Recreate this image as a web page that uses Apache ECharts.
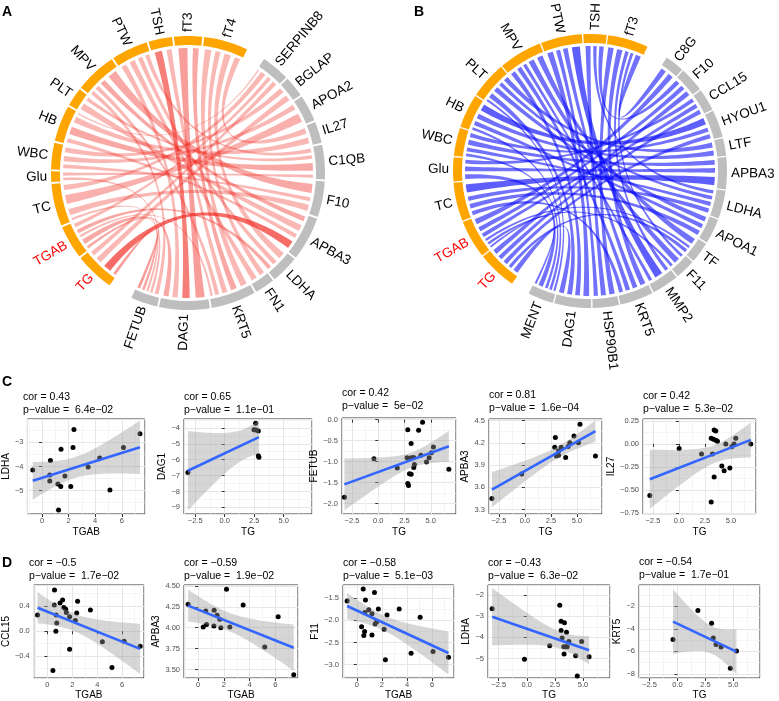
<!DOCTYPE html>
<html lang="en">
<head>
<meta charset="UTF-8">
<title>Chord diagrams and correlation plots</title>
<script src="https://cdn.jsdelivr.net/npm/echarts@6.0.0/dist/echarts.min.js"></script>
<style>
  * { margin: 0; padding: 0; box-sizing: border-box; }
  body { background: #fff; }
  #chart { width: 779px; height: 701px; }
</style>
</head>
<body>
<div id="chart"></div>
<script>
const FONT = '"Liberation Sans", Arial, Helvetica, sans-serif';

// ---------- panel A: chord diagram (red) ----------
const clinicalA = ['TG', 'TGAB', 'TC', 'Glu', 'WBC', 'HB', 'PLT', 'MPV', 'PTW', 'TSH', 'fT3', 'fT4'];
const genesA = ['SERPINB8', 'BGLAP', 'APOA2', 'IL27', 'C1QB', 'F10', 'APBA3', 'LDHA', 'FN1', 'KRT5', 'DAG1', 'FETUB'];
const linkFromA = ['TG', 'TGAB', 'TC', 'HB', 'TG', 'WBC', 'TC', 'WBC', 'fT4', 'HB', 'HB', 'PTW', 'Glu', 'PLT',
  'MPV', 'TC', 'WBC', 'TG', 'PLT', 'MPV', 'HB', 'fT4', 'PTW', 'TGAB', 'fT4', 'PTW', 'fT4', 'fT3', 'TSH', 'MPV',
  'TGAB', 'fT3', 'TSH', 'TGAB', 'PTW', 'TG', 'TGAB', 'Glu', 'MPV', 'TC'];
const linkToA = ['SERPINB8', 'SERPINB8', 'SERPINB8', 'SERPINB8', 'BGLAP', 'BGLAP', 'APOA2', 'APOA2', 'IL27', 'IL27',
  'C1QB', 'C1QB', 'C1QB', 'C1QB', 'F10', 'F10', 'F10', 'APBA3', 'APBA3', 'APBA3', 'APBA3', 'LDHA', 'LDHA', 'LDHA',
  'FN1', 'FN1', 'KRT5', 'KRT5', 'KRT5', 'KRT5', 'KRT5', 'DAG1', 'DAG1', 'DAG1', 'DAG1', 'FETUB', 'FETUB', 'FETUB',
  'FETUB', 'FETUB'];
const linkValueA = [3.5, 3, 4, 1.2, 4.5, 4, 7, 4, 4.3, 4.6, 6, 3.1, 2.4, 2.8, 7, 4.8, 3, 6, 5, 4, 3.2, 5, 3.6, 3,
  4, 4.3, 5, 4.6, 4, 3.2, 1.8, 7, 5.8, 4, 4.1, 2.3, 2.1, 2, 3, 1.7];
const linkAlphaA = [0.33, 0.33, 0.33, 0.3, 0.33, 0.33, 0.36, 0.33, 0.33, 0.33, 0.4, 0.33, 0.33, 0.33, 0.4, 0.33, 0.33,
  0.68, 0.33, 0.4, 0.33, 0.33, 0.33, 0.4, 0.33, 0.33, 0.33, 0.4, 0.33, 0.33, 0.33, 0.45, 0.6, 0.4, 0.33, 0.45, 0.4,
  0.33, 0.33, 0.33];

// ---------- panel B: chord diagram (blue) ----------
const clinicalB = ['TG', 'TGAB', 'TC', 'Glu', 'WBC', 'HB', 'PLT', 'MPV', 'PTW', 'TSH', 'fT3'];
const genesB = ['C8G', 'F10', 'CCL15', 'HYOU1', 'LTF', 'APBA3', 'LDHA', 'APOA1', 'TF', 'F11', 'MMP2', 'KRT5',
  'HSP90B1', 'DAG1', 'MENT'];
const linkFromB = ['fT3', 'TGAB', 'TG', 'TGAB', 'TSH', 'TG', 'TGAB', 'Glu', 'HB', 'WBC', 'TG', 'HB', 'PLT', 'TC',
  'Glu', 'WBC', 'TC', 'WBC', 'PLT', 'TSH', 'PLT', 'HB', 'TC', 'MPV', 'TG', 'TGAB', 'MPV', 'TGAB', 'fT3', 'PTW',
  'fT3', 'MPV', 'PTW', 'fT3', 'MPV', 'TC', 'TSH', 'fT3', 'PTW', 'PTW', 'MPV', 'PLT', 'TG', 'Glu', 'HB', 'TGAB',
  'WBC', 'PLT'];
const linkToB = ['C8G', 'C8G', 'F10', 'F10', 'F10', 'CCL15', 'CCL15', 'CCL15', 'HYOU1', 'HYOU1', 'HYOU1', 'LTF',
  'LTF', 'APBA3', 'APBA3', 'APBA3', 'LDHA', 'LDHA', 'LDHA', 'LDHA', 'APOA1', 'APOA1', 'APOA1', 'TF', 'TF', 'TF',
  'F11', 'F11', 'F11', 'MMP2', 'MMP2', 'MMP2', 'KRT5', 'KRT5', 'KRT5', 'KRT5', 'HSP90B1', 'HSP90B1', 'HSP90B1',
  'DAG1', 'DAG1', 'DAG1', 'DAG1', 'MENT', 'MENT', 'MENT', 'MENT', 'MENT'];
const linkValueB = [3.9, 4, 3.5, 3.3, 3.3, 3.2, 3, 2.9, 5, 3, 3.2, 3.6, 3.6, 6, 3.5, 3.6, 3.3, 2.9, 2.8, 2.5, 3.6,
  3.2, 3.5, 4.3, 2.5, 1.8, 4.2, 2, 2.1, 6, 2.6, 2.5, 3.5, 4, 3.3, 3, 3.7, 4, 3.1, 4.3, 3.5, 3.6, 3.7, 3.4, 2, 1.5,
  2, 1.6];
const linkAlphaB = linkValueB.map(v => (v > 4.5 ? 0.66 : 0.58));

// ---------- panels C and D: correlation scatter plots ----------
const c1X = [-0.70, 0.63, 0.58, 0.58, 1.19, 1.41, 1.43, 1.72, 1.24, 2.16, 2.33, 2.40, 3.47, 4.34, 5.11, 6.13, 7.37];
const c1Y = [-4.14, -3.75, -4.35, -4.60, -4.73, -4.83, -3.28, -4.39, -5.80, -4.83, -3.21, -2.47, -4.02, -3.65, -4.97, -3.21, -2.64];
const c2X = [2.62, 2.48, 2.65, 2.85, 2.85, 2.90, -3.12];
const c2Y = [-3.71, -4.11, -4.13, -4.19, -5.75, -5.85, -6.80];
const c3X = [-3.22, -0.41, 1.81, 2.81, 2.75, 2.81, 2.88, 2.97, 3.13, 3.13, 3.13, 3.38, 3.38, 3.44, 3.84, 4.06, 4.22,
  4.59, 4.84, 5.06, 5.25, 6.72];
const c3Y = [-1.85, -0.93, -1.15, -0.24, -0.91, -1.52, -1.57, -1.29, -1.30, -0.57, -0.91, -0.90, -1.14, -1.07, -0.25,
  -0.85, -0.06, -1.01, -0.91, -0.79, -0.65, -1.18];
const c4X = [-3.17, -0.31, 2.92, 2.86, 3.02, 3.23, 3.23, 3.48, 3.91, 4.15, 4.31, 4.71, 5.14, 5.29, 6.77];
const c4Y = [3.45, 3.78, 4.27, 4.14, 4.02, 4.09, 4.03, 4.14, 4.00, 4.15, 4.20, 4.29, 4.20, 4.45, 4.02];
const c5X = [-2.80, 0.02, 2.17, 3.10, 3.22, 3.38, 3.54, 3.32, 3.54, 3.70, 3.38, 3.10, 4.12, 4.34, 4.50, 4.89, 5.08,
  5.30, 5.46, 6.90];
const c5Y = [-0.56, -0.05, -0.11, 0.06, -0.11, 0.15, 0.14, 0.05, 0.04, 0.03, -0.36, -0.63, -0.24, -0.29, 0.00, -0.26,
  -0.03, 0.00, 0.06, 0.00];
const d1X = [-0.79, 0.44, 0.57, 0.55, 0.70, 0.75, 0.68, 1.01, 1.22, 1.32, 1.47, 1.52, 1.78, 1.78, 2.24, 2.42, 2.35,
  3.45, 4.41, 5.18, 6.16, 7.44];
const d1Y = [0.26, -0.63, 0.66, 0.42, 0.26, 0.13, 0.00, 0.45, 0.50, 0.38, 0.35, 0.30, 0.23, -0.29, 0.17, 0.48, 0.29,
  0.34, -0.17, -0.58, -0.16, -0.24];
const d2X = [-0.78, 0.39, 0.59, 0.65, 1.24, 1.22, 1.47, 1.68, 1.76, 2.20, 2.46, 3.49, 5.17, 6.21, 7.42];
const d2Y = [4.28, 4.01, 4.20, 4.04, 4.21, 4.02, 4.15, 4.10, 4.00, 4.46, 4.01, 4.27, 3.77, 4.13, 3.44];
const d3X = [-0.77, 0.38, 0.51, 0.56, 0.62, 0.69, 0.64, 0.95, 1.21, 1.21, 1.41, 1.46, 1.59, 1.72, 2.18, 2.28, 2.41,
  3.38, 4.33, 5.05, 6.08, 7.31];
const d3Y = [-1.56, -2.14, -1.29, -2.34, -2.25, -1.54, -1.82, -1.76, -2.33, -1.85, -1.37, -2.08, -2.03, -1.74, -2.20,
  -2.89, -1.88, -1.74, -2.74, -1.93, -2.70, -2.83];
const d4X = [-3.08, -0.21, 2.04, 2.93, 3.05, 3.35, 3.05, 3.14, 3.53, 3.29, 3.44, 3.59, 3.32, 3.74, 4.34, 4.49, 4.88, 5.54];
const d4Y = [-2.64, -5.03, -4.39, -2.48, -3.23, -3.31, -3.67, -4.03, -3.75, -4.44, -4.44, -4.44, -4.79, -4.19, -4.87,
  -5.83, -4.19, -4.92];
const d5X = [-0.40, 1.83, 3.06, 3.21, 3.46, 3.91, 4.74, 5.29];
const d5Y = [-4.96, -2.38, -3.51, -4.81, -5.39, -5.62, -7.51, -5.97];

const plotX = [c1X, c2X, c3X, c4X, c5X, d1X, d2X, d3X, d4X, d5X];
const plotY = [c1Y, c2Y, c3Y, c4Y, c5Y, d1Y, d2Y, d3Y, d4Y, d5Y];
const xNames = ['TGAB', 'TG', 'TG', 'TG', 'TG', 'TGAB', 'TGAB', 'TGAB', 'TG', 'TG'];
const yNames = ['LDHA', 'DAG1', 'FETUB', 'APBA3', 'IL27', 'CCL15', 'APBA3', 'F11', 'LDHA', 'KRT5'];
const corText = ['0.43', '0.65', '0.42', '0.81', '0.42', '\u22120.5', '\u22120.59', '\u22120.58', '\u22120.43', '\u22120.54'];
const pText = ['6.4e\u221202', '1.1e\u221201', '5e\u221202', '1.6e\u221204', '5.3e\u221202', '1.7e\u221202',
  '1.9e\u221202', '5.1e\u221203', '6.3e\u221202', '1.7e\u221201'];
const tgabRange = [-1.1, 7.75];
const tgRange = [-3.45, 7.4];
const yRanges = [[-5.97, -2.03], [-9.42, -3.44], [-2.25, 0.04], [3.24, 4.52], [-0.76, 0.27], [-0.75, 0.74],
  [3.40, 4.51], [-3.3, -1.2], [-5.92, -1.52], [-8.37, -0.11]];
const yStep = [1, 1, 0.5, 0.3, 0.25, 0.4, 0.25, 0.5, 1, 2];
const yDec = [0, 0, 1, 1, 2, 1, 2, 1, 0, 0];

// layout of the plot panels: left, top, width, height, y-name gap
const panels = [
  [23, 419, 122, 95, 11], [184, 419, 128, 95, 11], [342, 418, 114, 96, 18], [489, 419, 113, 95, 14],
  [643, 419, 113, 95, 13],
  [29, 585, 115, 94, 14], [184, 585, 114, 94, 15], [343, 585, 111, 94, 16], [488, 585, 122, 94, 10],
  [639, 585, 121, 94, 11]
];
const titleTops = [391, 391, 387, 389, 390, 557, 557, 557, 557, 556];

// t quantiles (0.975) by degrees of freedom, for the lm confidence band
const T975 = [12.706, 4.303, 3.182, 2.776, 2.571, 2.447, 2.365, 2.306, 2.262, 2.228, 2.201, 2.179, 2.160, 2.145,
  2.131, 2.120, 2.110, 2.101, 2.093, 2.086, 2.080, 2.074, 2.069, 2.064, 2.060];

// ---------- chord layout helpers ----------
function layoutChord(clin, genes, from, to, value, opts) {
  const names = clin.concat(genes);
  const total = {};
  names.forEach(n => { total[n] = 0; });
  value.forEach((v, i) => { total[from[i]] += v; total[to[i]] += v; });
  const sum = names.reduce((s, n) => s + total[n], 0);
  const free = 360 - opts.gapTop - opts.gapBottom - (names.length - 2) * opts.gap;
  const k = free / sum;
  const sectors = {};
  let a = opts.start;
  names.forEach((n, i) => {
    const w = total[n] * k;
    sectors[n] = { start: a, end: a + w, mid: a + w / 2 };
    a += w + (i === clin.length - 1 ? opts.gapTop : opts.gap);
  });
  const ends = value.map(() => ({}));
  names.forEach(n => {
    const s = sectors[n];
    const mine = [];
    value.forEach((v, i) => {
      if (from[i] === n) mine.push({ i: i, side: 'a', other: sectors[to[i]].mid, v: v });
      else if (to[i] === n) mine.push({ i: i, side: 'b', other: sectors[from[i]].mid, v: v });
    });
    mine.forEach(m => { m.d = ((m.other - s.mid) % 360 + 360) % 360; });
    mine.sort((p, q) => q.d - p.d);
    let pos = s.start;
    mine.forEach(m => {
      const w = m.v * k;
      const pad = w * (1 - opts.fill) / 2;
      ends[m.i][m.side] = [pos + pad, pos + w - pad];
      pos += w;
    });
  });
  return { names: names, sectors: sectors, ends: ends };
}

function arcPts(api, r, a0, a1, out) {
  const n = Math.max(2, Math.ceil(Math.abs(a1 - a0) / 1.5) + 1);
  for (let k = 0; k < n; k++) out.push(api.coord([r, a0 + (a1 - a0) * k / (n - 1)]));
}
function bezPts(p0, c, p1, out) {
  const n = 40;
  for (let k = 1; k < n; k++) {
    const t = k / n, u = 1 - t;
    out.push([u * u * p0[0] + 2 * u * t * c[0] + t * t * p1[0], u * u * p0[1] + 2 * u * t * c[1] + t * t * p1[1]]);
  }
}

const R_LINK = 125, R_IN = 128, R_OUT = 137, R_LABEL = 141;

function chordSeries(L, polarIndex, rgb, alphas, clinCount) {
  const linkSeries = {
    type: 'custom', coordinateSystem: 'polar', polarIndex: polarIndex, silent: true, z: 2,
    data: L.ends.map(() => [0, 0]),
    renderItem: function (params, api) {
      const e = L.ends[params.dataIndex];
      const c = api.coord([0, 0]);
      const pts = [];
      arcPts(api, R_LINK, e.a[0], e.a[1], pts);
      bezPts(api.coord([R_LINK, e.a[1]]), c, api.coord([R_LINK, e.b[0]]), pts);
      arcPts(api, R_LINK, e.b[0], e.b[1], pts);
      bezPts(api.coord([R_LINK, e.b[1]]), c, api.coord([R_LINK, e.a[0]]), pts);
      return { type: 'polygon', shape: { points: pts },
        style: { fill: 'rgba(' + rgb + ',' + alphas[params.dataIndex] + ')' } };
    }
  };
  const ringSeries = {
    type: 'custom', coordinateSystem: 'polar', polarIndex: polarIndex, silent: true, z: 3,
    data: L.names.map(() => [0, 0]),
    renderItem: function (params, api) {
      const s = L.sectors[L.names[params.dataIndex]];
      const pts = [];
      arcPts(api, R_OUT, s.start, s.end, pts);
      arcPts(api, R_IN, s.end, s.start, pts);
      return { type: 'polygon', shape: { points: pts },
        style: { fill: params.dataIndex < clinCount ? '#FFA500' : '#BEBEBE' } };
    }
  };
  const labelSeries = {
    type: 'custom', coordinateSystem: 'polar', polarIndex: polarIndex, silent: true, z: 4,
    data: L.names.map(() => [0, 0]),
    renderItem: function (params, api) {
      const name = L.names[params.dataIndex];
      const s = L.sectors[name];
      const mid = ((s.mid % 360) + 360) % 360;
      const p = api.coord([R_LABEL, s.mid]);
      const right = mid < 180;
      const deg = right ? 90 - mid : 270 - mid;
      const red = name === 'TG' || name === 'TGAB';
      return { type: 'text', x: p[0], y: p[1], rotation: deg * Math.PI / 180,
        style: { text: name, fill: red ? '#FF0000' : '#000', font: '13.5px ' + FONT,
          align: right ? 'left' : 'right', textAlign: right ? 'left' : 'right',
          verticalAlign: 'middle', textVerticalAlign: 'middle' } };
    }
  };
  return [linkSeries, ringSeries, labelSeries];
}

const layoutA = layoutChord(clinicalA, genesA, linkFromA, linkToA, linkValueA,
  { start: 214.9, gapTop: 8.2, gapBottom: 10.5, gap: 0.8, fill: 0.58 });
const layoutB = layoutChord(clinicalB, genesB, linkFromB, linkToB, linkValueB,
  { start: 214.7, gapTop: 9.3, gapBottom: 8.1, gap: 0.6, fill: 0.6 });

// ---------- scatter helpers ----------
function fmt(v, dec) {
  const s = (Math.abs(v) < 1e-9 ? 0 : v).toFixed(dec);
  return s.replace('-', '\u2212');
}
function lmFit(xs, ys) {
  const n = xs.length;
  const mx = xs.reduce((s, v) => s + v, 0) / n;
  const my = ys.reduce((s, v) => s + v, 0) / n;
  let sxx = 0, sxy = 0;
  xs.forEach((x, i) => { sxx += (x - mx) * (x - mx); sxy += (x - mx) * (ys[i] - my); });
  const b = sxy / sxx, a = my - b * mx;
  let sse = 0;
  xs.forEach((x, i) => { const r = ys[i] - a - b * x; sse += r * r; });
  const s = Math.sqrt(sse / (n - 2));
  return { a: a, b: b, s: s, t: T975[n - 3], mx: mx, sxx: sxx, n: n,
    x0: Math.min.apply(null, xs), x1: Math.max.apply(null, xs) };
}
function makeAxis(isY, gi, range, step, dec, name, gap) {
  return {
    type: 'value', gridIndex: gi, min: range[0], max: range[1],
    minInterval: step, maxInterval: step, splitNumber: 4,
    name: name, nameLocation: 'middle', nameGap: gap, nameRotate: isY ? 90 : 0,
    nameTextStyle: { fontSize: 10, color: '#000', fontFamily: FONT },
    axisLine: { show: false },
    axisTick: { show: true, length: 3, lineStyle: { color: '#333', width: 1 } },
    axisLabel: { show: true, fontSize: 7.5, color: '#4d4d4d', margin: isY ? 4 : 3, fontFamily: FONT,
      showMinLabel: false, showMaxLabel: false, formatter: v => fmt(v, dec) },
    splitLine: { show: true, lineStyle: { color: '#e6e6e6', width: 1 } },
    minorTick: { show: false, splitNumber: 2 },
    minorSplitLine: { show: true, lineStyle: { color: '#efefef', width: 0.6 } }
  };
}

const grids = [], xAxes = [], yAxes = [], scatterSeries = [];
const titles = [
  { text: 'A', left: 2, top: 5 }, { text: 'B', left: 414, top: 5 },
  { text: 'C', left: 2, top: 375 }, { text: 'D', left: 2, top: 556 }
].map(t => Object.assign(t, { padding: 0, textStyle: { fontSize: 14, fontWeight: 'bold', color: '#000', fontFamily: FONT } }));

panels.forEach((p, gi) => {
  grids.push({ left: p[0], top: p[1], width: p[2], height: p[3], show: true, backgroundColor: '#fff',
    borderColor: '#333', borderWidth: 1, containLabel: false });
  const tgab = xNames[gi] === 'TGAB';
  xAxes.push(makeAxis(false, gi, tgab ? tgabRange : tgRange, tgab ? 2 : 2.5, tgab ? 0 : 1, xNames[gi],
    gi < 5 ? 13 : 12));
  yAxes.push(makeAxis(true, gi, yRanges[gi], yStep[gi], yDec[gi], yNames[gi], p[4]));
  titles.push({ text: 'cor = ' + corText[gi] + '\np\u2212value =  ' + pText[gi], left: p[0], top: titleTops[gi],
    padding: 0, textStyle: { fontSize: 10.5, fontWeight: 'normal', color: '#000', lineHeight: 13, fontFamily: FONT } });

  const xs = plotX[gi], ys = plotY[gi];
  const f = lmFit(xs, ys);
  scatterSeries.push({
    type: 'scatter', xAxisIndex: gi, yAxisIndex: gi, symbolSize: 5, z: 2, silent: true,
    itemStyle: { color: '#000', opacity: 1 },
    data: xs.map((x, i) => [x, ys[i]])
  });
  scatterSeries.push({
    type: 'custom', coordinateSystem: 'cartesian2d', xAxisIndex: gi, yAxisIndex: gi, z: 3, silent: true,
    data: [[f.mx, f.a + f.b * f.mx]],
    renderItem: function (params, api) {
      const up = [], lo = [];
      const steps = 60;
      for (let k = 0; k <= steps; k++) {
        const x = f.x0 + (f.x1 - f.x0) * k / steps;
        const yhat = f.a + f.b * x;
        const half = f.t * f.s * Math.sqrt(1 / f.n + (x - f.mx) * (x - f.mx) / f.sxx);
        up.push(api.coord([x, yhat + half]));
        lo.unshift(api.coord([x, yhat - half]));
      }
      return { type: 'polygon', shape: { points: up.concat(lo) }, style: { fill: 'rgba(153,153,153,0.4)' } };
    }
  });
  scatterSeries.push({
    type: 'line', xAxisIndex: gi, yAxisIndex: gi, z: 4, silent: true, symbol: 'none',
    lineStyle: { color: '#3366FF', width: 2.6 },
    data: [[f.x0, f.a + f.b * f.x0], [f.x1, f.a + f.b * f.x1]]
  });
});

const chart = echarts.init(document.getElementById('chart'));
chart.setOption({
  animation: false,
  backgroundColor: '#fff',
  textStyle: { fontFamily: FONT },
  title: titles,
  polar: [{ center: [188, 173], radius: [0, 137] }, { center: [590, 171], radius: [0, 137] }],
  angleAxis: [0, 1].map(i => ({ polarIndex: i, type: 'value', min: 0, max: 360, startAngle: 90, clockwise: true,
    show: false })),
  radiusAxis: [0, 1].map(i => ({ polarIndex: i, type: 'value', min: 0, max: 137, show: false })),
  grid: grids,
  xAxis: xAxes,
  yAxis: yAxes,
  series: chordSeries(layoutA, 0, '240,40,30', linkAlphaA, clinicalA.length)
    .concat(chordSeries(layoutB, 1, '10,10,250', linkAlphaB, clinicalB.length))
    .concat(scatterSeries)
});
</script>
</body>
</html>
